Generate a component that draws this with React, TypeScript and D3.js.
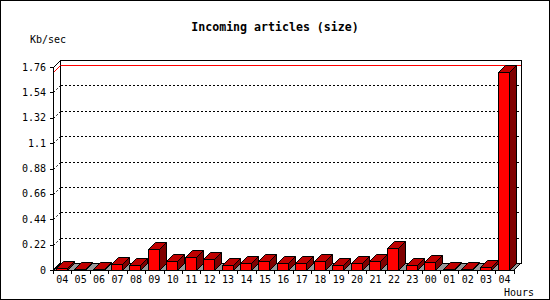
import React from "react";
import * as d3 from "d3";

const hours = ["04","05","06","07","08","09","10","11","12","13","14","15","16","17","18","19","20","21","22","23","00","01","02","03","04"];
const sizeKb = [0.015,0.006,0.012,0.052,0.04,0.179,0.075,0.11,0.092,0.04,0.058,0.081,0.058,0.058,0.081,0.04,0.058,0.075,0.188,0.04,0.066,0.012,0.012,0.023,1.714];
const yTicks = [0,0.22,0.44,0.66,0.88,1.1,1.32,1.54,1.76];
const yTickLabels = ["0","0.22","0.44","0.66","0.88","1.1","1.32","1.54","1.76"];

const W = 550, H = 300;
const X0 = 53, X1 = 513.75, Y0 = 270, YT = 67, D = 7;
const BAR_OFF = 2.7, BAR_W = 11;
const MONO = "'DejaVu Sans Mono', monospace";

export default function App() {
  const x = d3.scaleBand<number>().domain(hours.map((_, i) => i)).range([X0, X1]).paddingInner(0).paddingOuter(0);
  const y = d3.scaleLinear().domain([0, 1.76]).range([Y0, YT]);
  const bw = x.bandwidth();
  const maxV = d3.max(sizeKb) as number;
  const line = d3.line();
  const poly = (pts: [number, number][]) => line(pts) + "Z";
  const ry = (v: number) => Math.round(y(v)) + 0.5;
  const rx = (v: number) => Math.round(v) + 0.5;

  return (
    <svg width={W} height={H} style={{ position: "absolute", left: 0, top: 0, background: "#fff" }}
      shapeRendering="crispEdges">
      <rect x={0.5} y={0.5} width={W - 1} height={H - 1} fill="#fff" stroke="#000" />
      <text x={275} y={31} textAnchor="middle" fontFamily={MONO} fontWeight="bold" fontSize={11.6} fill="#000">Incoming articles (size)</text>
      <text x={30} y={43} fontFamily={MONO} fontSize={10} fill="#000">Kb/sec</text>

      {/* back wall */}
      <rect x={X0 + D + 0.5} y={ry(1.76) - D} width={Math.round(X1) + D - X0 - D} height={Y0 - YT} fill="#fff" stroke="#000" />
      {/* grid lines */}
      {yTicks.slice(1, -1).map((t, i) => (
        <g key={"g" + i}>
          <path d={line([[X0 + 0.5, ry(t)], [X0 + D + 0.5, ry(t) - D]]) as string}
            fill="none" stroke="#000" strokeDasharray="2,2" shapeRendering="auto" />
          <path d={line([[X0 + D + 1, ry(t) - D], [Math.round(X1) + D, ry(t) - D]]) as string}
            fill="none" stroke="#000" strokeDasharray="2,2" />
        </g>
      ))}
      {/* top diagonal */}
      <path d={line([[X0 + 0.5, ry(1.76)], [X0 + D + 0.5, ry(1.76) - D]]) as string} stroke="#000" fill="none" shapeRendering="auto" />
      {/* max line */}
      <path d={line([[X0 + 0.5, ry(maxV)], [X0 + D + 0.5, ry(maxV) - D]]) as string} stroke="#ff0000" fill="none" shapeRendering="auto" />
      <path d={line([[X0 + D + 1, ry(maxV) - D], [Math.round(X1) + D, ry(maxV) - D]]) as string} stroke="#ff0000" fill="none" />
      {/* floor */}
      <path d={poly([[X0, Y0 + 0.5], [X1, Y0 + 0.5], [X1 + D, Y0 - D + 0.5], [X0 + D, Y0 - D + 0.5]])} fill="#999999" stroke="#000" />

      {/* bars */}
      {sizeKb.map((v, i) => {
        const x1 = Math.round((x(i) as number) + BAR_OFF) + 0.5;
        const x2 = x1 + BAR_W;
        const yv = ry(v);
        return (
          <g key={"b" + i} shapeRendering="auto">
            <path d={poly([[x2, yv], [x2 + D, yv - D], [x2 + D, Y0 - D + 0.5], [x2, Y0 + 0.5]])} fill="#800000" stroke="#000" strokeLinejoin="round" />
            <path d={poly([[x1, yv], [x2, yv], [x2 + D, yv - D], [x1 + D, yv - D]])} fill="#c00000" stroke="#000" strokeLinejoin="round" />
            <rect x={x1} y={yv} width={BAR_W} height={Y0 + 0.5 - yv} fill="#ff0000" stroke="#000" shapeRendering="crispEdges" />
          </g>
        );
      })}

      {/* y axis */}
      <line x1={X0 + 0.5} x2={X0 + 0.5} y1={YT} y2={Y0 + 1} stroke="#000" />
      {yTicks.map((t, i) => (
        <g key={"yt" + i}>
          <line x1={X0 - 3} x2={X0 + 0.5} y1={ry(t)} y2={ry(t)} stroke="#000" />
          <text x={46} y={y(t) + 3.5} textAnchor="end" fontFamily={MONO} fontSize={10} fill="#000">{yTickLabels[i]}</text>
        </g>
      ))}
      {/* x axis */}
      <line x1={X0} x2={X1} y1={Y0 + 0.5} y2={Y0 + 0.5} stroke="#000" />
      {hours.map((h, i) => (
        <g key={"xt" + i}>
          <line x1={rx(x(i) as number)} x2={rx(x(i) as number)} y1={Y0} y2={Y0 + 4} stroke="#000" />
          <text x={(x(i) as number) + bw / 2} y={283} textAnchor="middle" fontFamily={MONO} fontSize={10} fill="#000">{h}</text>
        </g>
      ))}
      <line x1={rx(X1)} x2={rx(X1)} y1={Y0} y2={Y0 + 4} stroke="#000" />
      <text x={504} y={296} fontFamily={MONO} fontSize={10} fill="#000">Hours</text>
    </svg>
  );
}
